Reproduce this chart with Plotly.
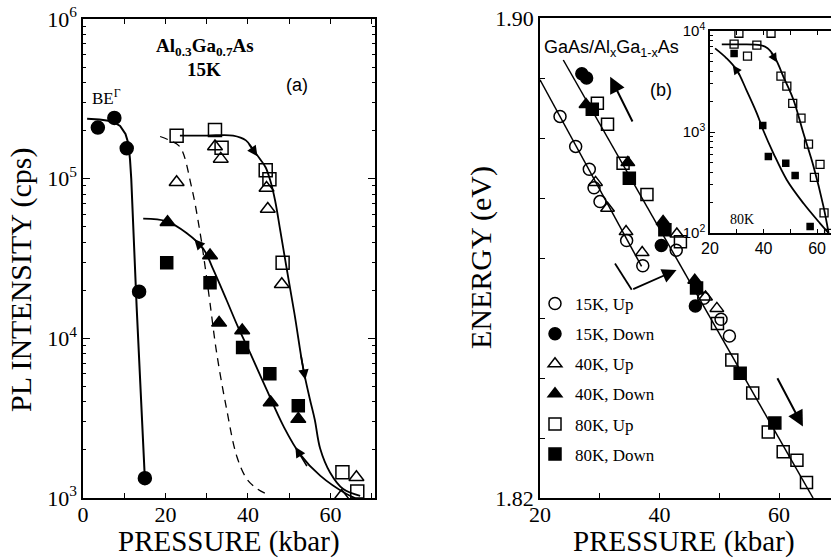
import numpy as np
import plotly.graph_objects as go

# ---------------- Panel (a): PL intensity vs pressure (Al0.3Ga0.7As, 15K) ----------------
a_be_p = [3.6, 7.6, 10.6, 13.6, 15.0]
a_be_i = [2.09e5, 2.4e5, 1.55e5, 1.96e4, 1.33e3]

a_open_sq_p = [22.7, 32.0, 33.6, 44.3, 45.2, 48.4, 62.9, 66.5]
a_open_sq_i = [1.86e5, 2.02e5, 1.56e5, 1.13e5, 9.9e4, 2.97e4, 1.45e3, 1.1e3]

a_open_tri_p = [22.7, 32.0, 33.4, 44.5, 44.8, 48.2, 66.3, 62.7]
a_open_tri_i = [9.5e4, 1.59e5, 1.33e5, 8.75e4, 6.46e4, 2.18e4, 1.35e3, 1.03e3]

a_fill_tri_p = [20.5, 30.8, 33.0, 38.6, 45.5, 52.2]
a_fill_tri_i = [5.33e4, 3.3e4, 1.25e4, 1.12e4, 3.96e3, 3.12e3]

a_fill_sq_p = [20.3, 30.8, 38.7, 45.3, 52.2]
a_fill_sq_i = [2.97e4, 2.23e4, 8.75e3, 6.0e3, 3.78e3]

# fitted curves (log10 of intensity)
a_be_curve_p = [1.0, 4.0, 7.0, 9.0, 10.3, 11.0, 11.4, 11.7, 13.0, 15.0]
a_be_curve_log = [5.375, 5.37, 5.36, 5.33, 5.28, 5.22, 5.12, 5.0, 4.2, 3.12]

a_up_curve_p = [23.5, 30.0, 36.4, 39.5, 41.3, 43.0, 44.3, 45.5, 46.6, 47.8, 49.3, 51.3,
                53.4, 55.0, 56.2, 57.5, 59.9, 63.1, 67.2]
a_up_curve_log = [5.27, 5.27, 5.27, 5.24, 5.18, 5.12, 5.07, 4.98, 4.86, 4.68, 4.45, 4.15,
                  3.81, 3.62, 3.49, 3.31, 3.16, 3.056, 3.014]

a_down_curve_p = [14.6, 20.3, 25.1, 29.2, 31.6, 34.8, 37.6, 40.5, 44.5, 48.6, 52.6, 57.5, 63.9, 66.0]
a_down_curve_log = [4.75, 4.733, 4.66, 4.56, 4.43, 4.24, 4.07, 3.91, 3.68, 3.45, 3.275, 3.14, 3.025, 3.0]

a_dash_curve_p = [18.7, 21.0, 23.5, 26.3, 28.4, 29.6, 30.8, 32.4, 34.8, 37.3, 39.7, 42.1, 44.5]
a_dash_curve_log = [5.264, 5.24, 5.20, 4.95, 4.66, 4.45, 4.22, 3.91, 3.56, 3.26, 3.12, 3.06, 3.025]

# arrow markers on curves: (tail_p, tail_log, head_p, head_log)
a_arrows = [(40.0, 5.225, 42.3, 5.14), (52.8, 3.90, 53.9, 3.74),
            (29.5, 4.55, 27.0, 4.62), (54.5, 3.19, 51.5, 3.32)]

# ---------------- Panel (b): energy vs pressure (GaAs/AlxGa1-xAs) ----------------
b_labels = ["15K, Up", "15K, Down", "40K, Up", "40K, Down", "80K, Up", "80K, Down"]
b_15up_p = [23.35, 25.97, 28.25, 29.04, 30.04, 34.5, 37.2, 42.8, 47.4, 50.3, 51.7]
b_15up_e = [1.8836, 1.8786, 1.8748, 1.8717, 1.8694, 1.8629, 1.8587, 1.8613, 1.8533, 1.8498, 1.8470]
b_15dn_p = [27.0, 27.8, 40.3, 46.0]
b_15dn_e = [1.8907, 1.8900, 1.8621, 1.8520]
b_40up_p = [29.3, 31.3, 34.4, 37.1, 42.9, 47.7, 49.6]
b_40up_e = [1.8726, 1.8683, 1.8644, 1.8609, 1.8640, 1.8535, 1.8516]
b_40dn_p = [27.7, 34.7, 40.6, 45.9]
b_40dn_e = [1.8856, 1.8759, 1.8661, 1.8563]
b_80up_p = [29.6, 31.3, 33.9, 37.9, 43.5, 49.7, 52.1, 55.6, 58.2, 60.7, 63.0, 64.6]
b_80up_e = [1.8858, 1.8823, 1.8758, 1.8706, 1.8627, 1.8491, 1.8430, 1.8375, 1.8310, 1.8277, 1.8263, 1.8226]
b_80dn_p = [28.75, 34.95, 40.9, 46.2, 53.5, 59.3]
b_80dn_e = [1.8848, 1.8733, 1.8647, 1.8550, 1.8408, 1.8325]

b_upper_line_p = [23.9, 65.7]
b_upper_line_e = [1.8930, 1.8200]
b_lower_line_p = [20.0, 37.0]
b_lower_line_e = [1.8897, 1.8586]

b_arrow_up = (35.6, 1.8825, 31.75, 1.8902)
b_arrow_down = (59.6, 1.8402, 64.0, 1.8319)
b_bent_arrow_p = [32.55, 35.35, 42.85]
b_bent_arrow_e = [1.8591, 1.8547, 1.8580]

# ---------------- Inset: 80K intensity vs pressure ----------------
in_up_p = [30.8, 42.8, 29.0, 34.0, 37.5, 46.5, 48.7, 50.9, 54.0, 56.8, 61.1, 59.0, 62.6, 64.3]
in_up_i = [9.5e3, 9.5e3, 7.4e3, 5.65e3, 7.25e3, 3.58e3, 2.85e3, 1.92e3, 1.37e3, 760, 479, 356, 158, 99]
in_dn_p = [29.0, 39.7, 41.8, 48.3, 51.8, 57.4]
in_dn_i = [6.0e3, 1.16e3, 571, 490, 370, 116]

in_up_curve_p = [24.4, 30.0, 38.7, 41.5, 43.7, 45.5, 47.4, 51.2, 54.9, 58.7, 62.4, 64.3]
in_up_curve_log = [3.868, 3.868, 3.861, 3.83, 3.762, 3.67, 3.548, 3.317, 2.987, 2.657, 2.261, 2.0]
in_dn_curve_p = [21.9, 26.2, 30.0, 33.7, 37.5, 40.0, 43.7, 48.7, 54.9, 61.1, 64.3]
in_dn_curve_log = [3.828, 3.73, 3.614, 3.41, 3.185, 3.01, 2.789, 2.525, 2.294, 2.096, 2.0]
in_arrows = [(42.5, 3.80, 45.0, 3.69), (31.5, 3.55, 28.5, 3.66)]

# ---------------- layout helpers ----------------
W, H = 831, 558
SERIF = "Liberation Serif"
SANS = "Liberation Sans"


def fx(x):
    return x / W


def fy(y):
    return 1 - y / H


fig = go.Figure()
blk = "black"

# ---- panel (a) traces ----
fig.add_trace(go.Scatter(x=a_be_curve_p, y=np.power(10, a_be_curve_log), mode="lines",
                         line=dict(color=blk, width=2), xaxis="x", yaxis="y", showlegend=False))
fig.add_trace(go.Scatter(x=a_up_curve_p, y=np.power(10, a_up_curve_log), mode="lines",
                         line=dict(color=blk, width=1.8, shape="spline"), xaxis="x", yaxis="y", showlegend=False))
fig.add_trace(go.Scatter(x=a_down_curve_p, y=np.power(10, a_down_curve_log), mode="lines",
                         line=dict(color=blk, width=1.8, shape="spline"), xaxis="x", yaxis="y", showlegend=False))
fig.add_trace(go.Scatter(x=a_dash_curve_p, y=np.power(10, a_dash_curve_log), mode="lines",
                         line=dict(color=blk, width=1.3, dash="8px,6px", shape="spline"),
                         xaxis="x", yaxis="y", showlegend=False))


def mk(p, v, sym, size, xa, ya, lw=1.5):
    return go.Scatter(x=p, y=v, mode="markers", showlegend=False,
                      marker=dict(symbol=sym, size=size, color=blk, line=dict(color=blk, width=lw)),
                      xaxis=xa, yaxis=ya)


fig.add_trace(mk(a_be_p, a_be_i, "circle", 13, "x", "y"))
fig.add_trace(mk(a_open_sq_p, a_open_sq_i, "square-open", 13, "x", "y"))
fig.add_trace(mk(a_open_tri_p, a_open_tri_i, "triangle-up-open", 13, "x", "y"))
fig.add_trace(mk(a_fill_tri_p, a_fill_tri_i, "triangle-up", 13, "x", "y"))
fig.add_trace(mk(a_fill_sq_p, a_fill_sq_i, "square", 12, "x", "y"))

# ---- panel (b) traces ----
fig.add_trace(go.Scatter(x=b_upper_line_p, y=b_upper_line_e, mode="lines", line=dict(color=blk, width=1.5),
                         xaxis="x2", yaxis="y2", showlegend=False))
fig.add_trace(go.Scatter(x=b_lower_line_p, y=b_lower_line_e, mode="lines", line=dict(color=blk, width=1.5),
                         xaxis="x2", yaxis="y2", showlegend=False))
fig.add_trace(go.Scatter(x=b_bent_arrow_p[:2], y=b_bent_arrow_e[:2], mode="lines",
                         line=dict(color=blk, width=1.8), xaxis="x2", yaxis="y2", showlegend=False))

b_sets = [(b_15up_p, b_15up_e, "circle-open"), (b_15dn_p, b_15dn_e, "circle"),
          (b_40up_p, b_40up_e, "triangle-up-open"), (b_40dn_p, b_40dn_e, "triangle-up"),
          (b_80up_p, b_80up_e, "square-open"), (b_80dn_p, b_80dn_e, "square")]
for i, (p, e, sym) in enumerate(b_sets):
    fig.add_trace(go.Scatter(x=p, y=e, mode="markers", name=b_labels[i], showlegend=True,
                             legendgroup=str(i),
                             marker=dict(symbol=sym, size=12, color=blk, line=dict(color=blk, width=1.5)),
                             xaxis="x2", yaxis="y2"))

# ---- inset traces ----
fig.add_trace(go.Scatter(x=in_up_curve_p, y=np.power(10, in_up_curve_log), mode="lines",
                         line=dict(color=blk, width=1.8, shape="spline"), xaxis="x3", yaxis="y3", showlegend=False))
fig.add_trace(go.Scatter(x=in_dn_curve_p, y=np.power(10, in_dn_curve_log), mode="lines",
                         line=dict(color=blk, width=1.8, shape="spline"), xaxis="x3", yaxis="y3", showlegend=False))
fig.add_trace(mk(in_up_p, in_up_i, "square-open", 8, "x3", "y3", lw=1.3))
fig.add_trace(mk(in_dn_p, in_dn_i, "square", 6, "x3", "y3"))

# ---- annotations ----
ann = []
for (tp, tl, hp, hl) in a_arrows:
    ann.append(dict(x=hp, y=hl, ax=tp, ay=tl, xref="x", yref="y", axref="x", ayref="y",
                    showarrow=True, arrowhead=2, arrowsize=1.3, arrowwidth=1.6, arrowcolor=blk,
                    standoff=0, startstandoff=0, text=""))
for (tp, tl, hp, hl) in in_arrows:
    ann.append(dict(x=hp, y=hl, ax=tp, ay=tl, xref="x3", yref="y3", axref="x3", ayref="y3",
                    showarrow=True, arrowhead=2, arrowsize=1.2, arrowwidth=1.5, arrowcolor=blk,
                    standoff=0, text=""))
for (tp, te, hp, he) in [b_arrow_up, b_arrow_down]:
    ann.append(dict(x=hp, y=he, ax=tp, ay=te, xref="x2", yref="y2", axref="x2", ayref="y2",
                    showarrow=True, arrowhead=2, arrowsize=1.6, arrowwidth=2, arrowcolor=blk,
                    standoff=0, text=""))
ann.append(dict(x=b_bent_arrow_p[2], y=b_bent_arrow_e[2], ax=b_bent_arrow_p[1], ay=b_bent_arrow_e[1],
                xref="x2", yref="y2", axref="x2", ayref="y2", showarrow=True, arrowhead=2,
                arrowsize=1.6, arrowwidth=1.8, arrowcolor=blk, standoff=0, text=""))


def txt(x, y, text, size, family=SERIF, angle=0, xanchor="center"):
    ann.append(dict(x=fx(x), y=fy(y), xref="paper", yref="paper", text=text, showarrow=False,
                    font=dict(family=family, size=size, color=blk), textangle=angle,
                    xanchor=xanchor, yanchor="middle", borderpad=0))


txt(229, 541, "PRESSURE (kbar)", 29)
txt(684, 541, "PRESSURE (kbar)", 29)
txt(21, 280, "PL INTENSITY (cps)", 30, angle=-90)
txt(481, 258, "ENERGY (eV)", 30, angle=-90)
txt(205, 47, "<b>Al<sub>0.3</sub>Ga<sub>0.7</sub>As</b>", 19)
txt(204, 70, "<b>15K</b>", 19)
txt(297, 85, "(a)", 18, family=SANS)
txt(106, 97, "BE<sup>Γ</sup>", 17)
txt(543, 48, "GaAs/Al<sub>x</sub>Ga<sub>1-x</sub>As", 18, family=SANS, xanchor="left")
txt(661, 90, "(b)", 18, family=SANS)
txt(742, 220, "80K", 14)

# ---- axes ----
tickfont = dict(family=SERIF, size=22, color=blk)


def minor_vals(lo, hi):
    return [m * 10 ** d for d in range(lo, hi) for m in range(2, 10)]


common = dict(showline=True, linecolor=blk, linewidth=1.5, ticks="inside", tickcolor=blk,
              showgrid=False, zeroline=False, automargin=False)

fig.update_layout(
    width=W, height=H, margin=dict(l=0, r=0, t=0, b=0, autoexpand=False),
    paper_bgcolor="white", plot_bgcolor="rgba(0,0,0,0)",
    annotations=ann,
    xaxis=dict(domain=[fx(83), fx(375)], range=[0, 70.8], anchor="y",
               tickvals=list(range(0, 71, 10)), ticktext=["0", "", "20", "", "40", "", "60", ""],
               ticklen=5, mirror="ticks", tickfont=tickfont, ticklabelstandoff=-4, **common),
    yaxis=dict(domain=[fy(498), fy(19)], type="log", range=[3, 6], anchor="x",
               tickvals=[1e3, 1e4, 1e5, 1e6],
               ticktext=["10<sup>3</sup>", "10<sup>4</sup>", "10<sup>5</sup>", "10<sup>6</sup>"],
               ticklen=7, mirror="ticks", tickfont=tickfont,
               minor=dict(tickvals=minor_vals(3, 6), ticklen=3, ticks="inside", tickcolor=blk),
               **common),
    xaxis2=dict(domain=[fx(540), 1.0], range=[20, 68.7], anchor="y2",
                tickvals=[20, 30, 40, 50, 60], ticktext=["20", "", "40", "", "60"],
                ticklen=5, mirror=True, tickfont=tickfont, ticklabelstandoff=-4, **common),
    yaxis2=dict(domain=[fy(498), fy(18)], range=[1.82, 1.90], anchor="x2",
                tickvals=[1.82, 1.83, 1.84, 1.85, 1.86, 1.87, 1.88, 1.89, 1.90],
                ticktext=["1.82", "", "", "", "", "", "", "", "1.90"],
                ticklen=5, tickfont=tickfont, **common),
    xaxis3=dict(domain=[fx(710), 1.0], range=[20, 65.2], anchor="y3",
                tickvals=[20, 30, 40, 50, 60], ticktext=["20", "", "40", "", "60"],
                ticklen=4, mirror="ticks", tickfont=dict(family=SANS, size=16, color=blk), **common),
    yaxis3=dict(domain=[fy(233), fy(31)], type="log", range=[2, 4], anchor="x3",
                tickvals=[1e2, 1e3, 1e4],
                ticktext=["10<sup>2</sup>", "10<sup>3</sup>", "10<sup>4</sup>"],
                ticklen=5, tickfont=dict(family=SANS, size=15, color=blk),
                minor=dict(tickvals=minor_vals(2, 4), ticklen=3, ticks="inside", tickcolor=blk),
                **common),
    legend=dict(x=fx(535), y=fy(286), xanchor="left", yanchor="top", bgcolor="rgba(0,0,0,0)",
                font=dict(family=SERIF, size=17, color=blk), tracegroupgap=5,
                itemsizing="trace"),
)

fig.write_html("out.html", config={"displayModeBar": False},
               post_script="document.body.style.margin='0';document.body.style.overflow='hidden';")
